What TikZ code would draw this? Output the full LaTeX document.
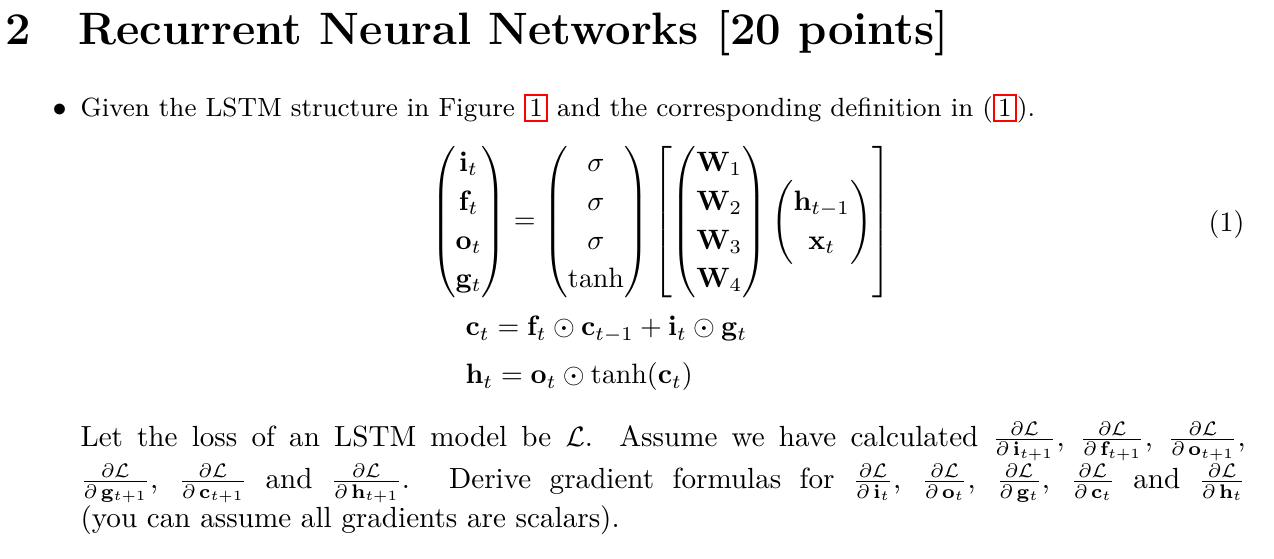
\documentclass[tikz,border=0pt]{standalone}
\usepackage{amsmath,amssymb}
\usepackage{xcolor}
\newcommand{\rlink}[1]{{\setlength{\fboxsep}{1.2pt}\setlength{\fboxrule}{0.7pt}\fcolorbox{red}{white}{#1}}}
\newcommand{\pd}[1]{\frac{\partial\mathcal{L}}{\partial\,#1}}
\begin{document}
\begin{tikzpicture}[x=0.357pt,y=-0.357pt,txt/.style={inner sep=0pt,anchor=base west}]
\useasboundingbox (0,0) rectangle (1274,559);
\node[txt] (num) at (5,45) {\fontsize{16.2}{19}\selectfont\bfseries 2};
\node[txt] (head) at (78,45) {\fontsize{16.2}{19}\selectfont\bfseries Recurrent Neural Networks [20 points]};
\node[txt] (bul) at (52,117) {$\bullet$};
\node[txt] (given) at (80,117) {\fontsize{9.4}{12}\selectfont Given the LSTM structure in Figure \rlink{1} and the corresponding definition in (\rlink{1}).};
\node[inner sep=0pt] (eq) at (661,222) {\renewcommand{\arraystretch}{1.15}$\displaystyle
\begin{pmatrix}\mathbf{i}_t\\ \mathbf{f}_t\\ \mathbf{o}_t\\ \mathbf{g}_t\end{pmatrix}
=\begin{pmatrix}\sigma\\ \sigma\\ \sigma\\ \tanh\end{pmatrix}
\left[\begin{pmatrix}\mathbf{W}_1\\ \mathbf{W}_2\\ \mathbf{W}_3\\ \mathbf{W}_4\end{pmatrix}
\begin{pmatrix}\mathbf{h}_{t-1}\\ \mathbf{x}_t\end{pmatrix}\right]$};
\node[txt,anchor=base east] (eqn) at (1245,232) {(1)};
\node[txt] (ct) at (465,336) {$\mathbf{c}_t=\mathbf{f}_t\odot\mathbf{c}_{t-1}+\mathbf{i}_t\odot\mathbf{g}_t$};
\node[txt] (ht) at (465,384) {$\mathbf{h}_t=\mathbf{o}_t\odot\tanh(\mathbf{c}_t)$};
\node[txt,anchor=north west,text width=416pt,align=justify] (para) at (80,421) {\fontsize{10.4}{13.2}\selectfont
Let the loss of an LSTM model be $\mathcal{L}$. Assume we have calculated $\pd{\mathbf{i}_{t+1}}$, $\pd{\mathbf{f}_{t+1}}$, $\pd{\mathbf{o}_{t+1}}$,\linebreak
$\pd{\mathbf{g}_{t+1}}$, $\pd{\mathbf{c}_{t+1}}$ and $\pd{\mathbf{h}_{t+1}}$. Derive gradient formulas for $\pd{\mathbf{i}_t}$, $\pd{\mathbf{o}_t}$, $\pd{\mathbf{g}_t}$, $\pd{\mathbf{c}_t}$ and $\pd{\mathbf{h}_t}$\linebreak
(you can assume all gradients are scalars).};
\end{tikzpicture}
\end{document}
